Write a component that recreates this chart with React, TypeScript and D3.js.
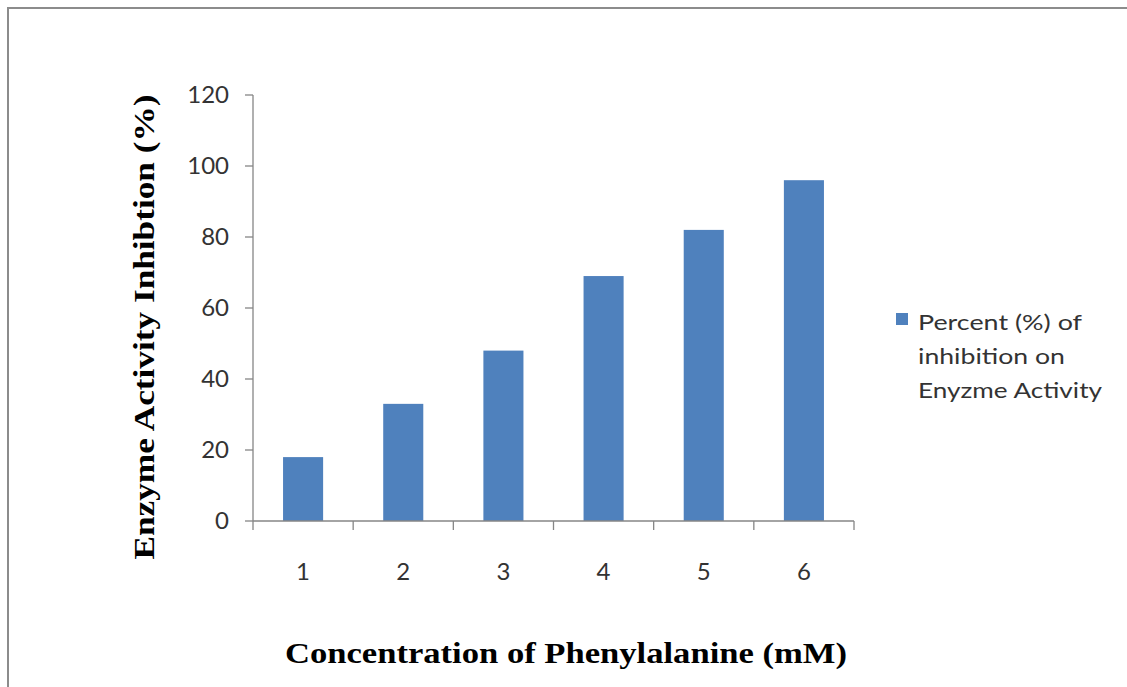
import React from "react";
import * as d3 from "d3";

const categories = ["1", "2", "3", "4", "5", "6"];
const values = [18, 33, 48, 69, 82, 96];
const yTicks = [0, 20, 40, 60, 80, 100, 120];
const seriesName = ["Percent (%) of", "inhibition on", "Enyzme Activity"];
const legendWidths = [164, 147, 184];
const xTitle = "Concentration of Phenylalanine (mM)";
const yTitle = "Enzyme Activity Inhibtion (%)";

const W = 1127;
const H = 687;
const left = 253;
const right = 854;
const top = 95;
const bottom = 521;

export default function App() {
  const x = d3.scaleBand<string>().domain(categories).range([left, right]).paddingInner(0.6).paddingOuter(0.3);
  const xEdge = d3.scaleLinear().domain([0, categories.length]).range([left, right]);
  const y = d3.scaleLinear().domain([0, 120]).range([bottom, top]);
  const axisColor = "#868686";
  const tickFont = "Lato, 'Open Sans', sans-serif";
  const serif = "'Liberation Serif', 'Times New Roman', serif";
  return (
    <svg width={W} height={H} style={{ position: "absolute", left: 0, top: 0, background: "#fff" }}>
      <rect x={8} y={8} width={W + 10} height={H + 10} fill="none" stroke="#8c8c8c" strokeWidth={2} />
      {values.map((v, i) => (
        <rect key={i} x={x(categories[i])} y={y(v)} width={x.bandwidth()} height={y(0) - y(v)} fill="#4f81bd" />
      ))}
      <line x1={left} x2={left} y1={top} y2={bottom} stroke={axisColor} strokeWidth={1.3} />
      <line x1={left} x2={right} y1={bottom} y2={bottom} stroke={axisColor} strokeWidth={1.3} />
      {yTicks.map((t) => (
        <g key={t}>
          <line x1={left - 8} x2={left} y1={y(t)} y2={y(t)} stroke={axisColor} strokeWidth={1.3} />
          <text x={229} y={y(t)} dy="0.35em" textAnchor="end" fontFamily={tickFont} fontSize={24} fill="#333">
            {t}
          </text>
        </g>
      ))}
      {d3.range(categories.length + 1).map((i) => (
        <line key={i} x1={xEdge(i)} x2={xEdge(i)} y1={bottom} y2={bottom + 9} stroke={axisColor} strokeWidth={1.3} />
      ))}
      {categories.map((c) => (
        <text key={c} x={(x(c) as number) + x.bandwidth() / 2} y={572} dy="0.35em" textAnchor="middle" fontFamily={tickFont} fontSize={24} fill="#333">
          {c}
        </text>
      ))}
      <text
        transform={`translate(154, 327) rotate(-90)`}
        textAnchor="middle"
        fontFamily={serif}
        fontWeight="bold"
        fontSize={30}
        textLength={465}
        lengthAdjust="spacingAndGlyphs"
        fill="#000"
      >
        {yTitle}
      </text>
      <text
        x={566}
        y={663}
        textAnchor="middle"
        fontFamily={serif}
        fontWeight="bold"
        fontSize={30}
        textLength={562}
        lengthAdjust="spacingAndGlyphs"
        fill="#000"
      >
        {xTitle}
      </text>
      <rect x={896} y={313} width={12} height={12} fill="#4f81bd" />
      {seriesName.map((s, i) => (
        <text
          key={i}
          x={918}
          y={322 + i * 34}
          dy="0.35em"
          fontFamily={tickFont}
          fontSize={22}
          textLength={legendWidths[i]}
          lengthAdjust="spacingAndGlyphs"
          fill="#333"
        >
          {s}
        </text>
      ))}
    </svg>
  );
}
